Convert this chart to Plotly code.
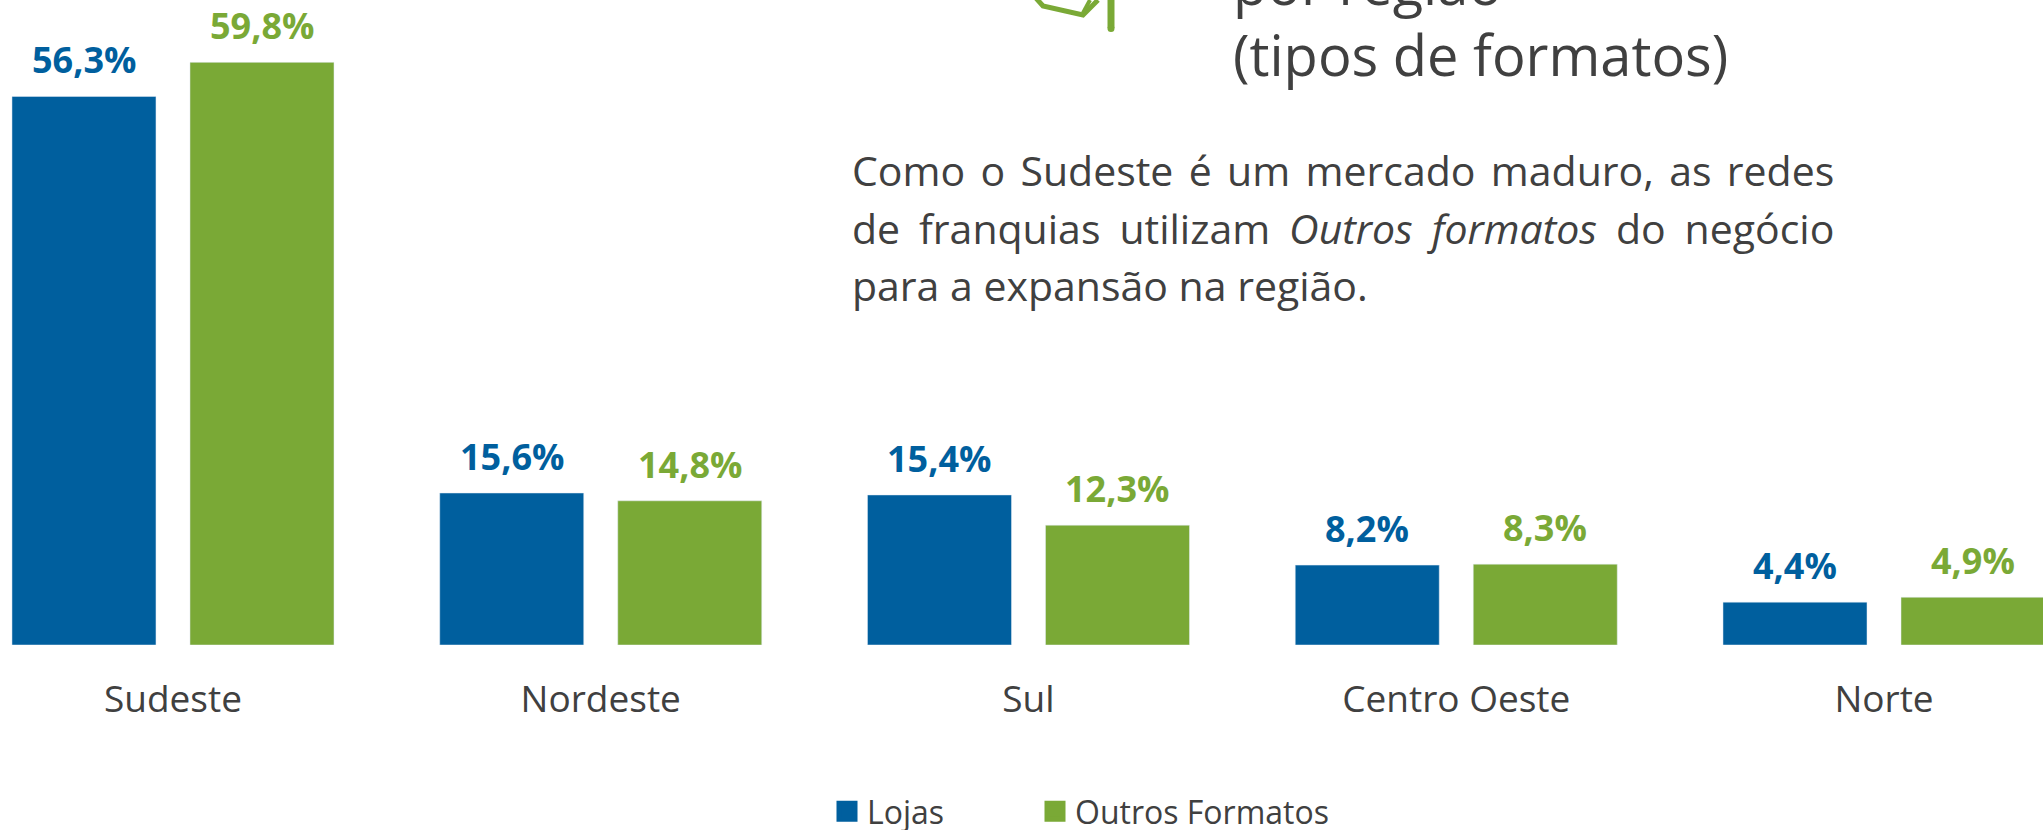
import plotly.graph_objects as go

categories = ["Sudeste", "Nordeste", "Sul", "Centro Oeste", "Norte"]
lojas = [56.3, 15.6, 15.4, 8.2, 4.4]
outros = [59.8, 14.8, 12.3, 8.3, 4.9]
lojas_labels = ["56,3%", "15,6%", "15,4%", "8,2%", "4,4%"]
outros_labels = ["59,8%", "14,8%", "12,3%", "8,3%", "4,9%"]

BLUE = "#005F9E"
GREEN = "#7AA936"
GREY = "#404040"
FONT = "Open Sans"
W, H, BASE = 2043, 830, 645

def px(x):
    return x / W

def py(y):
    return 1 - y / BASE

fig = go.Figure()
fig.add_bar(x=categories, y=lojas, marker_color=BLUE, showlegend=False)
fig.add_bar(x=categories, y=outros, marker_color=GREEN, showlegend=False)

# legend entries: square swatches in separate legends so the gap matches the reference
for name, col, leg in [("Lojas", BLUE, "legend"), ("Outros Formatos", GREEN, "legend2")]:
    fig.add_scatter(x=[None], y=[None], mode="markers", name=name, legend=leg,
                    marker=dict(symbol="square", size=16, color=col, line=dict(width=5, color=col)))

# value labels above the bars
for vals, labels, col, shift in [(lojas, lojas_labels, BLUE, -89), (outros, outros_labels, GREEN, 89)]:
    for cat, v, lab in zip(categories, vals, labels):
        fig.add_annotation(x=cat, y=v, text=lab, showarrow=False, xshift=shift, yshift=10, yanchor="bottom",
                           font=dict(family=FONT, size=36, color=col, weight="bold"))

def note(text, x, y, size):
    fig.add_annotation(text=text, xref="paper", yref="paper", x=px(x), y=py(y),
                       xanchor="left", yanchor="middle", showarrow=False, align="left",
                       font=dict(family=FONT, size=size, color=GREY))

note("por região", 1231, -16.5, 56)
note("(tipos de formatos)", 1231, 54, 56)
note("<span style='word-spacing:4.7px'>Como o Sudeste é um mercado maduro, as redes</span>", 850, 170, 41)
note("<span style='word-spacing:8.3px'>de franquias utilizam <i>Outros formatos</i> do negócio</span>", 850, 228, 41)
note("para a expansão na região.", 850, 285, 41)

# icon fragment at the top of the page
def path(points):
    return "M " + " L ".join(f"{px(x):.5f} {py(y):.5f}" for x, y in points)

fig.add_shape(type="path", xref="paper", yref="paper", line=dict(color=GREEN, width=5),
              fillcolor="rgba(0,0,0,0)", path=path([(1035, -3), (1043, 6), (1083, 15), (1098, 0)]))
fig.add_shape(type="path", xref="paper", yref="paper", line=dict(color=GREEN, width=4),
              fillcolor="rgba(0,0,0,0)", path=path([(1083, 13), (1090, 0)]))
fig.add_shape(type="line", xref="paper", yref="paper", x0=px(1111), x1=px(1111), y0=py(-3), y1=py(28),
              line=dict(color=GREEN, width=7))
fig.add_shape(type="circle", xref="paper", yref="paper", x0=px(1107.5), x1=px(1114.5), y0=py(25), y1=py(32),
              line=dict(width=0), fillcolor=GREEN)

legend_style = dict(orientation="h", xref="container", yref="container", xanchor="left", yanchor="top",
                    y=1 - 784 / H, itemwidth=30, font=dict(family=FONT, size=32, color=GREY),
                    bgcolor="rgba(0,0,0,0)")

fig.update_layout(
    width=W, height=H, margin=dict(l=0, r=0, t=0, b=H - BASE), autosize=False,
    paper_bgcolor="white", plot_bgcolor="white", barmode="group", bargap=0.1677, bargroupgap=0.191,
    showlegend=True,
    legend=dict(x=px(827), **legend_style),
    legend2=dict(x=px(1035), **legend_style),
    xaxis=dict(range=[-0.4044, 4.3717], showgrid=False, showline=False, ticks="", zeroline=False,
               tickfont=dict(family=FONT, size=37, color=GREY), ticklabelstandoff=29),
    yaxis=dict(range=[0, 66.2], visible=False, showgrid=False, zeroline=False),
)
fig.write_html("out.html", config={"displayModeBar": False},
               post_script="document.body.style.margin='0';document.body.style.overflow='hidden';")
